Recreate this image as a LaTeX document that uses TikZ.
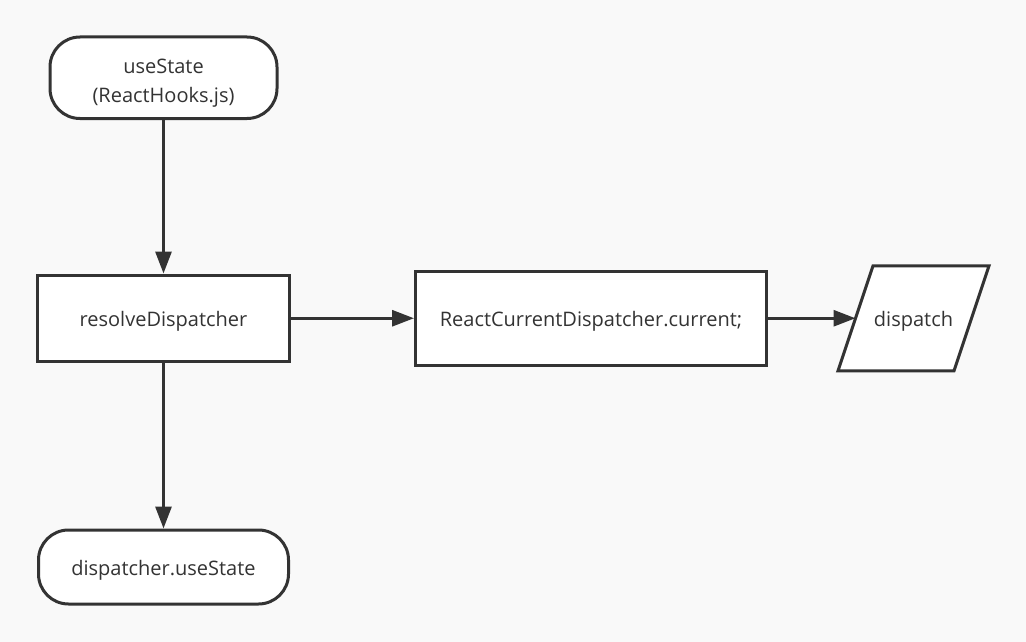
\documentclass[tikz,border=0pt]{standalone}
\usepackage{fontspec}
\setmainfont{Open Sans}
\usetikzlibrary{arrows.meta,calc,positioning}
\definecolor{linegray}{HTML}{333333}
\definecolor{bggray}{HTML}{F9F9F9}
\tikzstyle{txt}=[text=linegray,font=\fontsize{20}{29}\selectfont,text height=22pt,text depth=5pt]
\tikzstyle{terminal}=[txt,draw=linegray,line width=3pt,fill=white,rounded corners=30pt,align=center,inner sep=0pt]
\tikzstyle{process}=[txt,draw=linegray,line width=3pt,fill=white,inner sep=0pt]
\tikzstyle{io}=[draw=linegray,line width=3pt,fill=white,line join=miter]
\tikzstyle{arrow}=[line width=3pt,draw=linegray,-{Triangle[length=22pt,width=16pt]}]

\begin{document}
\begin{tikzpicture}[x=1pt,y=1pt]
    \useasboundingbox[fill=bggray] (0,0) rectangle (1026,-642);

    \node (use) [terminal,text height=54pt,minimum width=227pt,minimum height=81.5pt] at (163.5,-77.75) {useState\\(ReactHooks.js)};
    \node (res) [process,minimum width=252pt,minimum height=86.5pt] [below=153.5pt of use] {resolveDispatcher};
    \node (cur) [process,minimum width=351pt,minimum height=94pt] [right=123pt of res] {ReactCurrentDispatcher.current;};
    \coordinate [right=87.5pt of cur] (dism);
    \draw[io] ($(dism)+(-17.5,-52.5)$) -- ($(dism)+(17.5,52.5)$) -- ++(116,0) -- ++(-35,-105) -- cycle;
    \node (dis) [txt,minimum width=116pt,inner sep=0pt,outer sep=0pt,anchor=west] at (dism) {dispatch};
    \node (ret) [terminal,minimum width=250pt,minimum height=74pt] [below=165.5pt of res] {dispatcher.useState};

    \draw[arrow] (use) -- (res);
    \draw[arrow] (res) -- (cur);
    \draw[arrow] (cur) -- (dis);
    \draw[arrow] (res) -- (ret);
\end{tikzpicture}
\end{document}
